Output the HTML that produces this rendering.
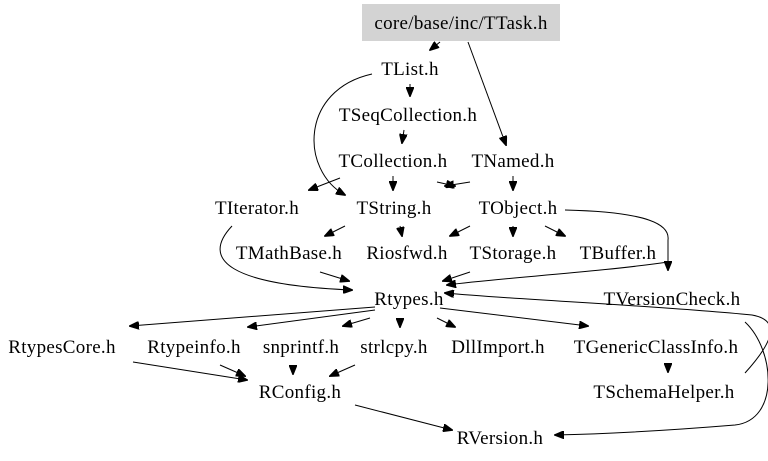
<!DOCTYPE html>
<html><head><style>
body{margin:0;background:#fff}
svg{display:block}
text{font-family:"Liberation Serif",serif;font-size:19px;fill:#000;text-anchor:middle;letter-spacing:0.3px}
path,line{stroke:#000;stroke-width:1;fill:none}
</style></head><body>
<svg width="768" height="461" viewBox="0 0 768 461">
<defs><marker id="a" markerWidth="10" markerHeight="8" refX="9" refY="4" orient="auto" markerUnits="userSpaceOnUse"><path d="M0,0 L10,4 L0,8 Z" style="fill:#000;stroke:#000"/></marker></defs>
<rect x="362" y="4" width="198" height="37" fill="#d3d3d3"/>
<text x="461" y="29">core/base/inc/TTask.h</text>
<text x="410" y="75">TList.h</text>
<text x="408" y="121">TSeqCollection.h</text>
<text x="393" y="167">TCollection.h</text>
<text x="513" y="167">TNamed.h</text>
<text x="257" y="214">TIterator.h</text>
<text x="394" y="214">TString.h</text>
<text x="518" y="214">TObject.h</text>
<text x="289" y="259">TMathBase.h</text>
<text x="407" y="259">Riosfwd.h</text>
<text x="513" y="259">TStorage.h</text>
<text x="618" y="259">TBuffer.h</text>
<text x="409" y="305">Rtypes.h</text>
<text x="672" y="305">TVersionCheck.h</text>
<text x="62" y="353">RtypesCore.h</text>
<text x="194" y="353">Rtypeinfo.h</text>
<text x="301" y="353">snprintf.h</text>
<text x="394" y="353">strlcpy.h</text>
<text x="498" y="353">DllImport.h</text>
<text x="656" y="353">TGenericClassInfo.h</text>
<text x="300" y="398">RConfig.h</text>
<text x="664" y="398">TSchemaHelper.h</text>
<text x="500" y="444">RVersion.h</text>
<g marker-end="url(#a)">
<line x1="440" y1="42" x2="430" y2="50"/>
<line x1="468" y1="42" x2="506" y2="145"/>
<line x1="410" y1="84" x2="410" y2="96"/>
<path d="M372 74 C300 90 300 170 345 195"/>
<line x1="404" y1="130" x2="402" y2="143"/>
<line x1="393" y1="176" x2="393" y2="190"/>
<line x1="340" y1="178" x2="309" y2="190"/>
<line x1="437" y1="182" x2="455" y2="186"/>
<line x1="470" y1="182" x2="445" y2="186"/>
<line x1="513" y1="176" x2="513" y2="190"/>
<line x1="345" y1="226" x2="325" y2="236"/>
<line x1="400" y1="226" x2="402" y2="236"/>
<line x1="470" y1="226" x2="450" y2="236"/>
<line x1="513" y1="226" x2="513" y2="236"/>
<line x1="545" y1="226" x2="565" y2="236"/>
<path d="M565 210 C650 212 670 225 668 240 L668 270"/>
<path d="M668 262 C600 272 500 278 447 285"/>
<path d="M232 226 C200 260 230 285 352 290"/>
<line x1="320" y1="272" x2="349" y2="281"/>
<line x1="470" y1="272" x2="443" y2="281"/>
<line x1="375" y1="307" x2="130" y2="326"/>
<line x1="375" y1="310" x2="248" y2="327"/>
<line x1="370" y1="318" x2="343" y2="326"/>
<line x1="400" y1="318" x2="400" y2="327"/>
<line x1="437" y1="318" x2="455" y2="327"/>
<line x1="440" y1="308" x2="588" y2="326"/>
<line x1="668" y1="364" x2="668" y2="372"/>
<path d="M745 373 C775 340 780 320 752 315 C650 305 520 300 445 293"/>
<path d="M745 322 C775 350 780 420 735 425 C650 432 600 434 555 435"/>
<line x1="133" y1="362" x2="247" y2="380"/>
<line x1="220" y1="365" x2="245" y2="376"/>
<line x1="293" y1="365" x2="293" y2="374"/>
<line x1="355" y1="365" x2="330" y2="376"/>
<line x1="355" y1="405" x2="452" y2="430"/>
</g>
</svg>
</body></html>
